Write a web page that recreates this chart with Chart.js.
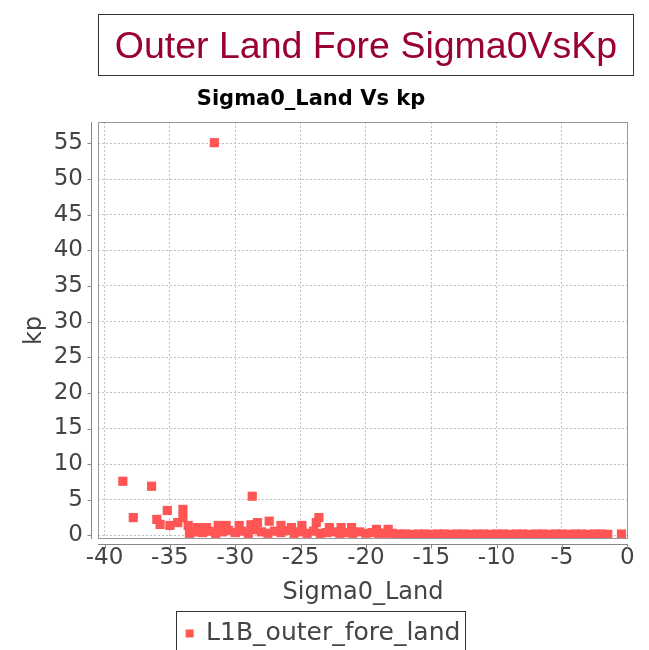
<!DOCTYPE html>
<html>
<head>
<meta charset="utf-8">
<script src="https://cdn.jsdelivr.net/npm/chart.js@4.4.1/dist/chart.umd.min.js"></script>
<style>
    html, body { margin: 0; padding: 0; background: #fff; overflow: hidden; }
    #wrap { position: relative; width: 649px; height: 650px; overflow: hidden; }
    #mainTitle {
        position: absolute; left: 98px; top: 14px; width: 534px; height: 60px;
        border: 1px solid #333; color: #990033; text-align: center;
        font: 37.5px "Liberation Sans", Arial, sans-serif; line-height: 60px; overflow: hidden;
    }
    #subTitle {
        position: absolute; left: 0; top: 86px; width: 622px; text-align: center;
        font: bold 21px "DejaVu Sans", sans-serif; line-height: 24px; color: #000;
    }
    #chart { position: absolute; left: 0; top: 0; }
</style>
</head>
<body>
<div id="wrap">
    <canvas id="chart" width="649" height="656"></canvas>
    <div id="mainTitle">Outer Land Fore Sigma0VsKp</div>
    <div id="subTitle">Sigma0_Land Vs kp</div>
</div>
<script>
// Series values
const sigma0 = [
    -31.6, -38.6, -36.4, -28.7,
    -37.8, -36.0, -35.2, -35.75, -35.0, -34.0, -34.0, -34.4, -33.6, -32.9, -32.2, -31.3,
    -30.7, -29.7, -28.8, -28.3, -27.4, -26.5, -25.7, -24.9, -23.6, -23.8, -22.8, -21.9,
    -21.1, -19.2, -18.3,
    -33.5, -33.0, -32.5, -32.0, -31.5, -31.0, -30.5, -30.0, -29.5, -29.0, -28.5, -28.0,
    -27.5, -27.0, -26.5, -26.0, -25.5, -25.0, -24.5, -24.0, -23.5, -23.0, -22.5, -22.0,
    -21.5, -21.0, -20.5, -20.0, -19.5, -19.0, -18.5, -18.0, -17.5, -17.0, -16.5, -16.0,
    -15.5, -15.0, -14.5, -14.0, -13.5, -13.0, -12.5, -12.0, -11.5, -11.0, -10.5, -10.0,
    -9.5, -9.0, -8.5, -8.0, -7.5, -7.0, -6.5, -6.0, -5.5, -5.0, -4.5, -4.0,
    -3.5, -3.0, -2.5, -2.0, -1.5, -0.45
];
const kp = [
    55.1, 7.6, 6.9, 5.5,
    2.5, 2.25, 3.5, 1.55, 1.4, 3.65, 2.5, 1.8, 1.4, 1.1, 1.1, 1.4,
    1.4, 1.4, 1.5, 1.8, 2.0, 1.4, 1.1, 1.4, 2.5, 1.8, 1.1, 1.1,
    1.1, 0.85, 0.85,
    0.3, 0.5, 0.4, 0.6, 0.3, 0.5, 0.7, 0.4, 0.6, 0.3, 0.8, 0.5,
    0.3, 0.6, 0.4, 0.7, 0.3, 0.5, 0.3, 0.6, 0.3, 0.4, 0.5, 0.3,
    0.4, 0.3, 0.5, 0.3, 0.4, 0.3, 0.3, 0.3, 0.2, 0.2, 0.15, 0.2,
    0.2, 0.15, 0.2, 0.2, 0.15, 0.2, 0.2, 0.15, 0.2, 0.2, 0.15, 0.2,
    0.2, 0.15, 0.2, 0.2, 0.15, 0.2, 0.2, 0.15, 0.2, 0.2, 0.15, 0.2,
    0.2, 0.15, 0.2, 0.2, 0.15, 0.2
];
const xTicks = [-40, -35, -30, -25, -20, -15, -10, -5, 0];
const yTicks = [0, 5, 10, 15, 20, 25, 30, 35, 40, 45, 50, 55];
const seriesName = 'L1B_outer_fore_land';

Chart.defaults.font.family = '"DejaVu Sans", sans-serif';

// Plot outline, offset axis lines with tick marks, and legend frame
const plotFrame = {
    id: 'plotFrame',
    afterDraw(chart) {
        const ctx = chart.ctx;
        const a = chart.chartArea;
        const x = chart.scales.x;
        const y = chart.scales.y;
        ctx.save();
        ctx.lineWidth = 1;
        ctx.strokeStyle = '#999';
        ctx.strokeRect(a.left + 0.5, a.top + 0.5, a.right - a.left - 1, a.bottom - a.top - 1);

        ctx.strokeStyle = '#888';
        ctx.beginPath();
        const ax = Math.round(a.left) - 6.5;
        ctx.moveTo(ax, a.top);
        ctx.lineTo(ax, a.bottom);
        y.ticks.forEach(t => {
            const py = Math.round(y.getPixelForValue(t.value)) + 0.5;
            ctx.moveTo(ax - 4, py);
            ctx.lineTo(ax, py);
        });
        const ay = Math.round(a.bottom) + 5.5;
        ctx.moveTo(a.left, ay);
        ctx.lineTo(a.right, ay);
        x.ticks.forEach(t => {
            const px = Math.round(x.getPixelForValue(t.value)) + 0.5;
            ctx.moveTo(px, ay);
            ctx.lineTo(px, ay + 4);
        });
        ctx.stroke();

        const hb = chart.legend.legendHitBoxes[0];
        if (hb) {
            ctx.strokeStyle = '#333';
            const l = Math.round(hb.left) - 9.5;
            const r = Math.round(hb.left + hb.width) + 5.5;
            ctx.strokeRect(l, Math.round(chart.legend.top) + 0.5, r - l, 60);
        }
        ctx.restore();
    }
};

new Chart(document.getElementById('chart'), {
    type: 'scatter',
    data: {
        datasets: [{
            label: seriesName,
            data: sigma0.map((v, i) => ({ x: v, y: kp[i] })),
            pointStyle: 'rect',
            pointRadius: 6.5,
            pointHoverRadius: 6.5,
            backgroundColor: '#ff5555',
            borderWidth: 0
        }]
    },
    options: {
        responsive: false,
        animation: false,
        devicePixelRatio: 1,
        layout: { padding: { left: 18, right: 21, top: 122, bottom: 0 } },
        plugins: {
            title: { display: false },
            tooltip: { enabled: false },
            legend: {
                position: 'bottom',
                labels: {
                    color: '#444',
                    font: { size: 25 },
                    boxWidth: 8,
                    boxHeight: 8,
                    padding: 10
                }
            }
        },
        scales: {
            x: {
                type: 'linear',
                min: -40.5,
                max: 0.05,
                afterBuildTicks: s => { s.ticks = xTicks.map(v => ({ value: v })); },
                afterFit: s => { s.height = 72; },
                ticks: { color: '#444', font: { size: 23 }, padding: 5 },
                grid: { color: '#c0c0c0', drawTicks: false },
                border: { display: false, dash: [2, 2] },
                title: { display: true, text: 'Sigma0_Land', color: '#444', font: { size: 24 }, padding: { top: 0, bottom: 4 } }
            },
            y: {
                type: 'linear',
                min: -0.5,
                max: 58,
                afterBuildTicks: s => { s.ticks = yTicks.map(v => ({ value: v })); },
                afterFit: s => { s.width = 80; },
                ticks: { color: '#444', font: { size: 23 }, padding: 15 },
                grid: { color: '#c0c0c0', drawTicks: false },
                border: { display: false, dash: [2, 2] },
                title: { display: true, text: 'kp', color: '#444', font: { size: 24 }, padding: { top: 2, bottom: 0 } }
            }
        }
    },
    plugins: [plotFrame]
});
</script>
</body>
</html>
